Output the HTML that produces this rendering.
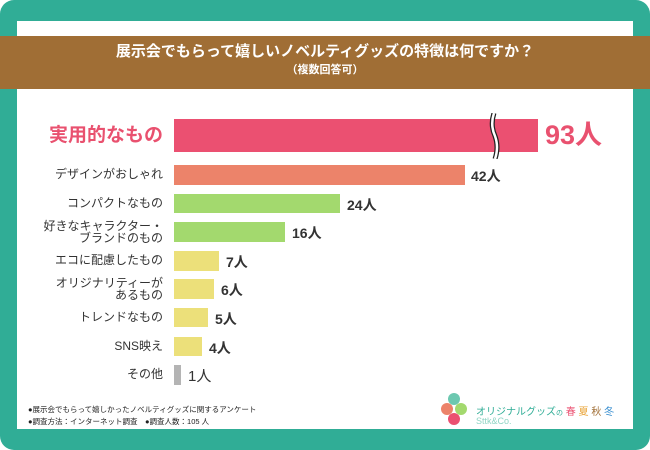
<!DOCTYPE html><html><head><meta charset="utf-8"><style>
body{margin:0;width:650px;height:450px;background:#fff;font-family:"Liberation Sans","Noto Sans CJK JP",sans-serif;overflow:hidden}
.bg{position:absolute;left:0;top:0;width:650px;height:450px;background:#30ad96;border-radius:14px}
.panel{position:absolute;left:17px;top:21px;width:616px;height:408px;background:#fff}
.ban{position:absolute;left:0;top:36px;width:650px;height:53px;background:#a06e35;color:#fff;text-align:center}
.t1{font-size:15px;font-weight:bold;margin-top:6px;line-height:20px}
.t2{font-size:11px;font-weight:bold;line-height:16px}
.lab{position:absolute;right:487px;text-align:right;color:#333;font-size:12px;line-height:12px}
.bar{position:absolute;left:174px}
.val{position:absolute;color:#333;font-size:14px;font-weight:bold}
.ft{position:absolute;left:28px;font-size:7.5px;color:#222}
</style></head><body>
<div class="bg"></div><div class="panel"></div>
<div class="ban"><div class="t1">展示会でもらって嬉しいノベルティグッズの特徴は何ですか？</div><div class="t2">（複数回答可）</div></div>

<div class="lab" style="top:126px;color:#e9516f;font-size:19px;font-weight:bold;line-height:20px">実用的なもの</div>
<div class="bar" style="top:119px;width:364px;height:33px;background:#eb5071"></div>
<svg style="position:absolute;left:488px;top:113px" width="16" height="46"><path d="M6 0 Q2 12 7 23 Q11 34 7 46" stroke="#222" stroke-width="5" fill="none"/><path d="M6 0 Q2 12 7 23 Q11 34 7 46" stroke="#fff" stroke-width="2.5" fill="none"/></svg>
<div class="val" style="left:545px;top:119px;color:#e9516f;font-size:27px;line-height:32px">93人</div>

<div class="lab" style="top:168px">デザインがおしゃれ</div>
<div class="bar" style="top:165px;width:291px;height:20px;background:#ec836a"></div>
<div class="val" style="left:471px;top:166px">42人</div>

<div class="lab" style="top:197px">コンパクトなもの</div>
<div class="bar" style="top:194px;width:166px;height:19px;background:#a3d96e"></div>
<div class="val" style="left:347px;top:195px">24人</div>

<div class="lab" style="top:220px">好きなキャラクター・<br>ブランドのもの</div>
<div class="bar" style="top:222px;width:111px;height:20px;background:#a3d96e"></div>
<div class="val" style="left:292px;top:223px">16人</div>

<div class="lab" style="top:254px">エコに配慮したもの</div>
<div class="bar" style="top:251px;width:45px;height:20px;background:#ece07a"></div>
<div class="val" style="left:226px;top:252px">7人</div>

<div class="lab" style="top:277px">オリジナリティーが<br>あるもの</div>
<div class="bar" style="top:279px;width:40px;height:20px;background:#ece07a"></div>
<div class="val" style="left:221px;top:280px">6人</div>

<div class="lab" style="top:311px">トレンドなもの</div>
<div class="bar" style="top:308px;width:34px;height:19px;background:#ece07a"></div>
<div class="val" style="left:215px;top:309px">5人</div>

<div class="lab" style="top:340px">SNS映え</div>
<div class="bar" style="top:337px;width:28px;height:19px;background:#ece07a"></div>
<div class="val" style="left:209px;top:338px">4人</div>

<div class="lab" style="top:368px">その他</div>
<div class="bar" style="top:365px;width:7px;height:20px;background:#b4b4b4"></div>
<div class="val" style="left:188px;top:365px;font-weight:normal;font-size:15px">1人</div>

<div class="ft" style="top:404px">●展示会でもらって嬉しかったノベルティグッズに関するアンケート</div>
<div class="ft" style="top:416px">●調査方法：インターネット調査　●調査人数：105 人</div>

<div style="position:absolute;left:448px;top:393px;width:12px;height:12px;border-radius:50%;background:#6cc8b0"></div>
<div style="position:absolute;left:441px;top:403px;width:12px;height:12px;border-radius:50%;background:#ec836a"></div>
<div style="position:absolute;left:455px;top:403px;width:12px;height:12px;border-radius:50%;background:#a3d96e"></div>
<div style="position:absolute;left:448px;top:413px;width:12px;height:12px;border-radius:50%;background:#eb5071"></div>
<div style="position:absolute;left:476px;top:403px;font-size:10px;color:#30ad96">オリジナルグッズ<span style="font-size:7px">の</span><span style="color:#eb5071"> 春</span><span style="color:#e8a030"> 夏</span><span style="color:#a06e35"> 秋</span><span style="color:#3a8fd0"> 冬</span></div>
<div style="position:absolute;left:476px;top:416px;font-size:9px;color:#8fd4c4">Sttk&amp;Co.</div>
</body></html>
